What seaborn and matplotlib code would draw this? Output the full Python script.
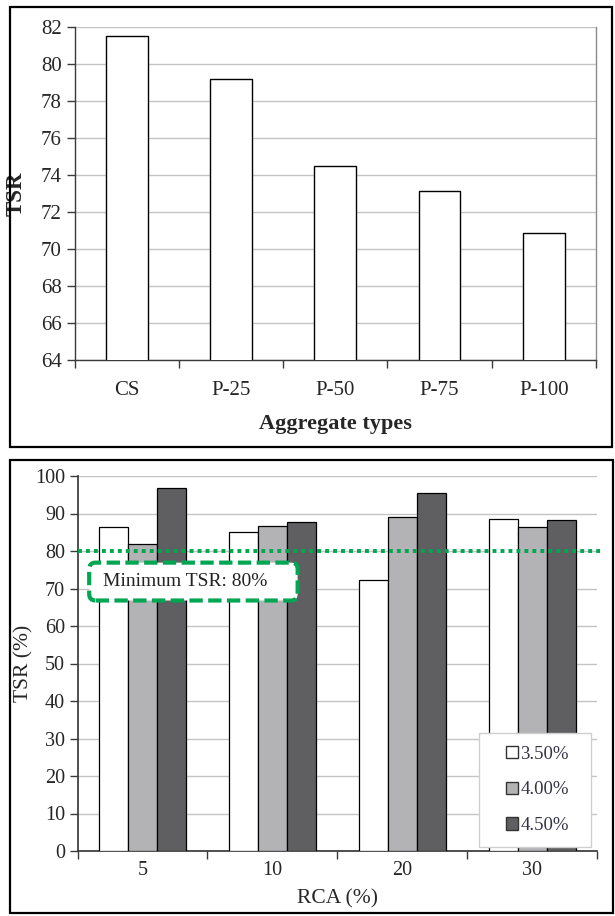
import numpy as np
import pandas as pd
import matplotlib
matplotlib.use("Agg")
import matplotlib.pyplot as plt
import seaborn as sns
from matplotlib.patches import Rectangle, FancyBboxPatch, Patch

# ---------------- data ----------------
agg_types = ["CS", "P-25", "P-50", "P-75", "P-100"]
tsr_agg = [81.5, 79.2, 74.5, 73.15, 70.85]

rca_levels = ["5", "10", "20", "30"]
series_labels = ["3.50%", "4.00%", "4.50%"]
tsr_350 = [86.4, 85.0, 72.4, 88.6]
tsr_400 = [82.0, 86.7, 89.2, 86.4]
tsr_450 = [96.8, 87.7, 95.6, 88.3]

top_yticks = [64, 66, 68, 70, 72, 74, 76, 78, 80, 82]
bot_yticks = [0, 10, 20, 30, 40, 50, 60, 70, 80, 90, 100]
min_tsr = 80
min_label = "Minimum TSR: 80%"

# ---------------- style ----------------
sns.set_theme(style="white")
plt.rcParams["font.family"] = ["Liberation Serif", "DejaVu Serif"]

W, H = 615, 916
fig = plt.figure(figsize=(W / 100, H / 100), dpi=100)

grid_c = "#c4c4c4"
spine_c = "#3a3a3a"
green = "#00a651"

def fx(px):
    return px / W

def fy(py):
    return 1 - py / H

# ---------------- top panel ----------------
ax1 = fig.add_axes([fx(74.5), fy(360), fx(596) - fx(74.5), fy(27) - fy(360)])
df1 = pd.DataFrame({"type": agg_types, "tsr": tsr_agg})
sns.barplot(data=df1, x="type", y="tsr", color="white", edgecolor="black",
            linewidth=1.0, width=0.4, ax=ax1, zorder=3, saturation=1)
ax1.set_ylim(64, 82)
ax1.set_xlim(-0.5, len(agg_types) - 0.5)
ax1.set_yticks(top_yticks)
ax1.set_yticklabels([str(v) for v in top_yticks], fontsize=15)
ax1.yaxis.grid(True, color=grid_c, lw=1.0, zorder=0)
ax1.set_axisbelow(True)
ax1.set_xticks(range(len(agg_types)))
ax1.set_xticklabels(agg_types, fontsize=15)
ax1.set_xticks(np.arange(-0.5, len(agg_types)), minor=True)
ax1.tick_params(axis="x", which="major", length=0, pad=15)
ax1.tick_params(axis="x", which="minor", length=6, width=1, color=spine_c, direction="out", bottom=True)
ax1.tick_params(axis="y", length=6, width=1, color=spine_c, direction="out", left=True, pad=3)
ax1.set_xlabel("Aggregate types", fontsize=16, fontweight="bold", labelpad=10)
ax1.set_ylabel("TSR", fontsize=16.5, fontweight="bold")
ax1.yaxis.set_label_coords(-0.092, 0.5)
ax1.spines["top"].set_visible(False)
ax1.spines["left"].set_color(spine_c)
ax1.spines["bottom"].set_color(spine_c)
ax1.spines["right"].set_color("#8a8a8a")
for s in ["left", "bottom", "right"]:
    ax1.spines[s].set_linewidth(1.0)

# ---------------- bottom panel ----------------
ax2 = fig.add_axes([fx(77.5), fy(851), fx(597) - fx(77.5), fy(476) - fy(851)])
df2 = pd.DataFrame({
    "rca": rca_levels * 3,
    "tsr": tsr_350 + tsr_400 + tsr_450,
    "sp": [series_labels[0]] * 4 + [series_labels[1]] * 4 + [series_labels[2]] * 4,
})
palette = {series_labels[0]: "#ffffff", series_labels[1]: "#b3b3b6", series_labels[2]: "#5f5f61"}
sns.barplot(data=df2, x="rca", y="tsr", hue="sp", palette=palette, edgecolor="black",
            linewidth=0.9, width=0.67, gap=0, ax=ax2, zorder=3, saturation=1, legend=False)
ax2.set_ylim(0, 100)
ax2.set_xlim(-0.5, len(rca_levels) - 0.5)
ax2.set_yticks(bot_yticks)
ax2.set_yticklabels([str(v) for v in bot_yticks], fontsize=14.5)
ax2.yaxis.grid(True, color=grid_c, lw=1.0, zorder=0)
ax2.set_axisbelow(True)
ax2.set_xticks(range(len(rca_levels)))
ax2.set_xticklabels(rca_levels, fontsize=14.5)
ax2.set_xticks(np.arange(-0.5, len(rca_levels)), minor=True)
ax2.tick_params(axis="x", which="major", length=0, pad=7)
ax2.tick_params(axis="x", which="minor", length=6, width=1, color=spine_c, direction="out", bottom=True)
ax2.tick_params(axis="y", length=6, width=1, color=spine_c, direction="out", left=True, pad=3)
ax2.set_xlabel("RCA (%)", fontsize=15.5, labelpad=7)
ax2.set_ylabel("TSR (%)", fontsize=15.5)
ax2.yaxis.set_label_coords(-0.084, 0.5)
for s in ["top", "right"]:
    ax2.spines[s].set_visible(False)
ax2.spines["left"].set_color(spine_c)
ax2.spines["bottom"].set_color(spine_c)

# minimum TSR dotted line
ax2.axhline(min_tsr, xmin=0, xmax=1.013, color=green, lw=2.8, ls=(0, (1, 1.05)),
            dash_capstyle="butt", zorder=6, clip_on=False)

# dashed rounded box with label
box = FancyBboxPatch((-0.41, 66.8), 1.605, 10.1,
                     boxstyle="round,pad=0,rounding_size=0.05", mutation_aspect=34.5,
                     facecolor="white", edgecolor=green, lw=3.0, ls=(0, (3.2, 1.3)),
                     zorder=7)
ax2.add_patch(box)
ax2.text(-0.3, 71.9, min_label, fontsize=14, va="center", ha="left", color="#222222", zorder=8)

# legend box + legend
ax2.add_patch(Rectangle((0.773, 0.011), 0.215, 0.303, transform=ax2.transAxes,
                        facecolor="white", edgecolor="#cfcfcf", lw=1.0, zorder=8))
handles = [Patch(facecolor=palette[l], edgecolor="#333333", lw=1.0) for l in series_labels]
leg = ax2.legend(handles, series_labels, loc="center", bbox_to_anchor=(0.885, 0.163),
                 frameon=False, fontsize=13.5, handlelength=0.65, handleheight=0.65,
                 handletextpad=0.15, labelspacing=1.0, borderpad=0)
leg.set_zorder(9)
for t in leg.get_texts():
    t.set_color("#333344")

# panel frames
fig.patches.append(Rectangle((fx(10), fy(447)), fx(612) - fx(10), fy(7) - fy(447),
                             transform=fig.transFigure, fill=False, edgecolor="black", lw=1.6))
fig.patches.append(Rectangle((fx(10), fy(913)), fx(613) - fx(10), fy(460) - fy(913),
                             transform=fig.transFigure, fill=False, edgecolor="black", lw=1.6))

fig.savefig("out.png", dpi=100)
